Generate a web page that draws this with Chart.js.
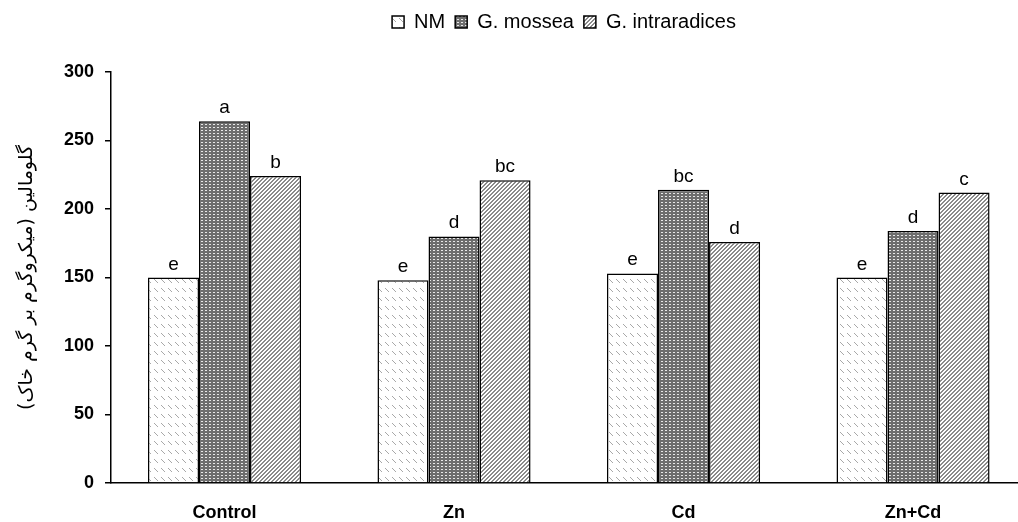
<!DOCTYPE html>
<html>
<head>
<meta charset="utf-8">
<script src="https://cdn.jsdelivr.net/npm/chart.js@4.4.1/dist/chart.umd.min.js"></script>
<style>
  body { margin: 0; background: #fff; }
  #wrap { width: 1018px; height: 522px; }
</style>
</head>
<body>
<div id="wrap"><canvas id="glomalin"></canvas></div>
<script>
// data
var categories = ["Control", "Zn", "Cd", "Zn+Cd"];
var seriesNames = ["NM", "G. mossea", "G. intraradices"];
var nmValues = [150, 148, 153, 150];
var mosseaValues = [264, 180, 214, 184];
var intraValues = [224, 221, 176, 212];
var nmLetters = ["e", "e", "e", "e"];
var mosseaLetters = ["a", "d", "bc", "d"];
var intraLetters = ["b", "bc", "d", "c"];
var yTicks = [0, 50, 100, 150, 200, 250, 300];
var yTitle = "گلومالین (میکروگرم بر گرم خاک)";

function makePattern(w, h, bg, fg, dots) {
    var c = document.createElement("canvas");
    c.width = w; c.height = h;
    var g = c.getContext("2d");
    g.fillStyle = bg;
    g.fillRect(0, 0, w, h);
    g.fillStyle = fg;
    dots.forEach(function (d) { g.fillRect(d[0], d[1], d[2] || 1, d[3] || 1); });
    return g.createPattern(c, "repeat");
}

var ctx = document.getElementById("glomalin").getContext("2d");

// light dashed "\" rows
var nmFill = makePattern(7, 9, "#ffffff", "#a8a8a8", [[0, 0], [1, 1], [2, 2], [3, 3]]);
// grey with small white blocks
var mosseaFill = makePattern(4, 3, "#6e6e6e", "#e8e8e8", [[1, 1, 2, 1]]);
// dense "/" stripes
var intraDots = [];
for (var y = 0; y < 4; y++)
    for (var x = 0; x < 4; x++)
        if ((x + y) % 4 < 2) intraDots.push([x, y]);
var intraFill = makePattern(4, 4, "#ffffff", "#8a8a8a", intraDots);

function pts(vals) {
    return vals.map(function (v, i) { return { x: i, y: v }; });
}

var letters = [nmLetters, mosseaLetters, intraLetters];

var letterPlugin = {
    id: "letters",
    afterDatasetsDraw: function (chart) {
        var c = chart.ctx;
        c.save();
        c.font = "19px 'Liberation Sans', Arial, sans-serif";
        c.fillStyle = "#000";
        c.textAlign = "center";
        c.textBaseline = "alphabetic";
        chart.data.datasets.forEach(function (ds, d) {
            chart.getDatasetMeta(d).data.forEach(function (bar, i) {
                c.fillText(letters[d][i], bar.x, bar.y - 8);
            });
        });
        c.restore();
    }
};

var legendHeight = {
    id: "legendHeight",
    beforeInit: function (chart) {
        var fit = chart.legend.fit;
        chart.legend.fit = function () {
            fit.bind(chart.legend)();
            this.height = 70;
        };
    }
};

var chart = new Chart(ctx, {
    type: "bar",
    data: {
        datasets: [
            { label: seriesNames[0], data: pts(nmValues), backgroundColor: nmFill, borderColor: "#000", borderWidth: 1.5 },
            { label: seriesNames[1], data: pts(mosseaValues), backgroundColor: mosseaFill, borderColor: "#000", borderWidth: 1.5 },
            { label: seriesNames[2], data: pts(intraValues), backgroundColor: intraFill, borderColor: "#000", borderWidth: 1.5 }
        ]
    },
    options: {
        responsive: true,
        maintainAspectRatio: false,
        animation: false,
        categoryPercentage: 0.667,
        barPercentage: 1.0,
        layout: { padding: { top: 2, right: 1, left: 0, bottom: 0 } },
        plugins: {
            tooltip: { enabled: false },
            legend: {
                position: "top",
                fullSize: false,
                labels: {
                    color: "#000",
                    boxWidth: 12,
                    boxHeight: 12,
                    padding: 10,
                    font: { family: "'Liberation Sans', Arial, sans-serif", size: 20 }
                }
            }
        },
        scales: {
            x: {
                type: "linear",
                offset: false,
                min: -0.4946,
                max: 3.453,
                afterBuildTicks: function (s) {
                    s.ticks = categories.map(function (c, i) { return { value: i }; });
                },
                afterFit: function (s) { s.height = 39; },
                ticks: {
                    color: "#000",
                    padding: 11,
                    maxRotation: 0,
                    autoSkip: false,
                    font: { family: "'Liberation Sans', Arial, sans-serif", size: 18, weight: "bold" },
                    callback: function (v) { return categories[v]; }
                },
                grid: { display: false, offset: false },
                border: { display: true, color: "#000", width: 1.5 }
            },
            y: {
                min: 0,
                max: 300,
                afterBuildTicks: function (s) {
                    s.ticks = yTicks.map(function (v) { return { value: v }; });
                },
                afterFit: function (s) { s.width = 111; },
                ticks: {
                    color: "#000",
                    padding: 11,
                    font: { family: "'Liberation Sans', Arial, sans-serif", size: 18, weight: "bold" }
                },
                grid: { drawOnChartArea: false, drawTicks: true, tickLength: 6, color: "#000", lineWidth: 1.5 },
                border: { display: true, color: "#000", width: 1.5 },
                title: {
                    display: true,
                    text: yTitle,
                    color: "#000",
                    padding: { top: 16, bottom: 0 },
                    font: { family: "'DejaVu Sans', sans-serif", size: 19, weight: "normal" }
                }
            }
        }
    },
    plugins: [letterPlugin, legendHeight]
});
</script>
</body>
</html>
